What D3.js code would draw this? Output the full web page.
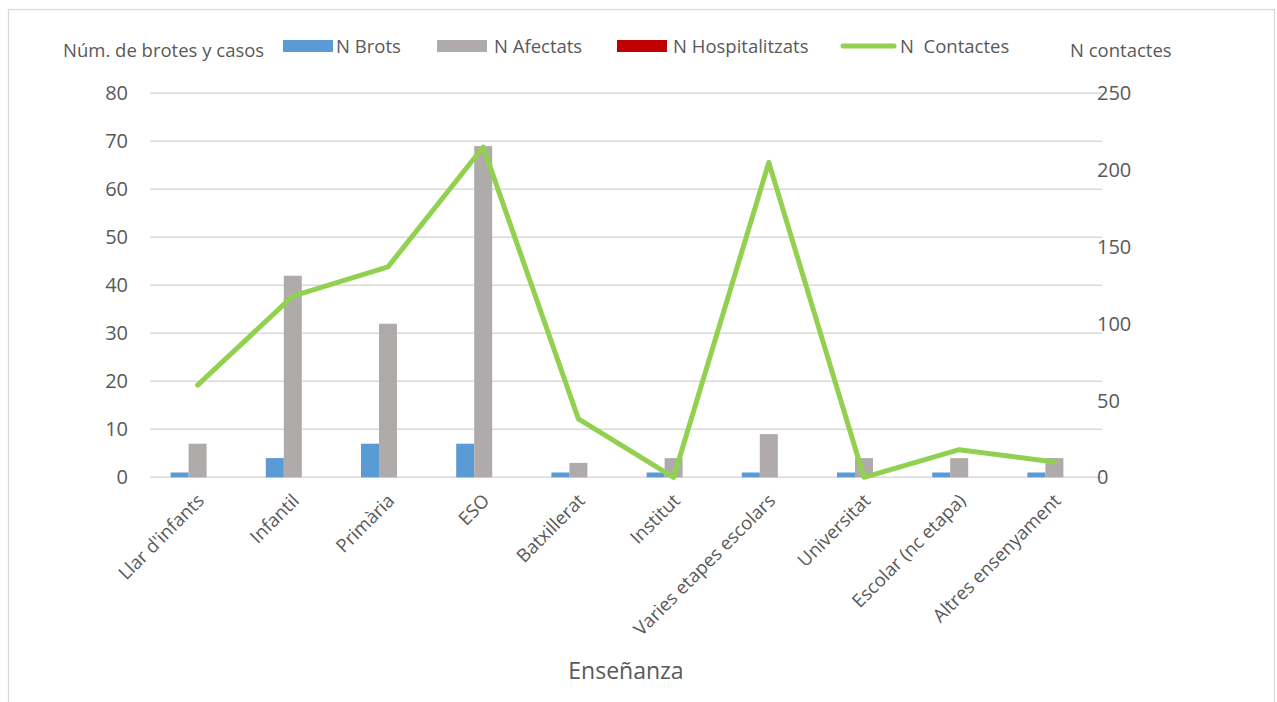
<!DOCTYPE html>
<html>
<head>
<meta charset="utf-8">
<script src="https://cdn.jsdelivr.net/npm/d3@7"></script>
<style>
  body { margin: 0; background: #fff; }
  svg text { font-family: "Open Sans", sans-serif; fill: #595959; }
</style>
</head>
<body>
<svg id="chart" width="1277" height="702"></svg>
<script>
// data
const categories = ["Llar d'infants", "Infantil", "Primària", "ESO", "Batxillerat", "Institut",
  "Varies etapes escolars", "Universitat", "Escolar (nc etapa)", "Altres ensenyament"]
const nBrots = [1, 4, 7, 7, 1, 1, 1, 1, 1, 1]
const nAfectats = [7, 42, 32, 69, 3, 4, 9, 4, 4, 4]
const nHospitalitzats = [0, 0, 0, 0, 0, 0, 0, 0, 0, 0]
const nContactes = [60, 118, 137, 215, 38, 0, 205, 0, 18, 10]
const leftTicks = [0, 10, 20, 30, 40, 50, 60, 70, 80]
const rightTicks = [0, 50, 100, 150, 200, 250]

const barSeries = [
  {name: "N Brots", values: nBrots, color: "#5b9bd5"},
  {name: "N Afectats", values: nAfectats, color: "#afabab"},
  {name: "N Hospitalitzats", values: nHospitalitzats, color: "#c00000"}
]
const lineColor = "#92d050"

const svg = d3.select("#chart")

// outer frame
svg.append("rect")
  .attr("x", 8.5).attr("y", 9.5)
  .attr("width", 1266).attr("height", 720)
  .attr("fill", "none").attr("stroke", "#d9d9d9").attr("stroke-width", 1.2)

const plotLeft = 150, plotRight = 1102, plotTop = 93.3, plotBottom = 477.3

const x = d3.scaleBand().domain(categories).range([plotLeft, plotRight]).padding(0)
const groupW = 54
const xInner = d3.scaleBand().domain(barSeries.map(d => d.name)).range([0, groupW])
const yL = d3.scaleLinear().domain([0, 80]).range([plotBottom, plotTop])
const yR = d3.scaleLinear().domain([0, 250]).range([plotBottom, plotTop])

// gridlines
svg.append("g").selectAll("line")
  .data(leftTicks).enter().append("line")
  .attr("x1", plotLeft).attr("x2", plotRight)
  .attr("y1", d => yL(d)).attr("y2", d => yL(d))
  .attr("stroke", "#d9d9d9").attr("stroke-width", 1.5)

// left axis labels
svg.append("g").selectAll("text")
  .data(leftTicks).enter().append("text")
  .attr("x", 128).attr("y", d => yL(d))
  .attr("dy", "0.35em")
  .attr("text-anchor", "end")
  .style("font-size", "20px")
  .text(d => d)

// right axis labels
svg.append("g").selectAll("text")
  .data(rightTicks).enter().append("text")
  .attr("x", 1097).attr("y", d => yR(d))
  .attr("dy", "0.35em")
  .attr("text-anchor", "start")
  .style("font-size", "20px")
  .text(d => d)

// bars
barSeries.forEach(s => {
  svg.append("g").selectAll("rect")
    .data(categories).enter().append("rect")
    .attr("x", (c) => x(c) + (x.bandwidth() - groupW) / 2 + xInner(s.name))
    .attr("width", xInner.bandwidth())
    .attr("y", (c, i) => yL(s.values[i]))
    .attr("height", (c, i) => plotBottom - yL(s.values[i]))
    .attr("fill", s.color)
})

// contacts line
const line = d3.line()
  .x((d, i) => x(categories[i]) + x.bandwidth() / 2)
  .y(d => yR(d))
svg.append("path")
  .datum(nContactes)
  .attr("d", line)
  .attr("fill", "none")
  .attr("stroke", lineColor)
  .attr("stroke-width", 5)
  .attr("stroke-linejoin", "round")
  .attr("stroke-linecap", "round")

// category labels
svg.append("g").selectAll("text")
  .data(categories).enter().append("text")
  .attr("transform", c => `translate(${x(c) + x.bandwidth() / 2 + 3},${plotBottom + 20}) rotate(-45)`)
  .attr("text-anchor", "end")
  .attr("dy", "0.35em")
  .style("font-size", "18.5px")
  .text(c => c)

// axis titles
svg.append("text").attr("x", 626).attr("y", 679)
  .attr("text-anchor", "middle").style("font-size", "23px").text("Enseñanza")
svg.append("text").attr("x", 63).attr("y", 57)
  .style("font-size", "18.5px").text("Núm. de brotes y casos")
svg.append("text").attr("x", 1070).attr("y", 57)
  .style("font-size", "18.5px").text("N contactes")

// legend
const legend = [
  {label: "N Brots", color: barSeries[0].color, sx: 283, tx: 336, type: "bar"},
  {label: "N Afectats", color: barSeries[1].color, sx: 437, tx: 494, type: "bar"},
  {label: "N Hospitalitzats", color: barSeries[2].color, sx: 617, tx: 673, type: "bar"},
  {label: "N\u00a0 Contactes", color: lineColor, sx: 841, tx: 900, type: "line"}
]
const lg = svg.append("g")
legend.forEach(l => {
  if (l.type === "bar") {
    lg.append("rect").attr("x", l.sx).attr("y", 40).attr("width", 50).attr("height", 12).attr("fill", l.color)
  } else {
    lg.append("line").attr("x1", l.sx + 2).attr("x2", l.sx + 53).attr("y1", 46).attr("y2", 46)
      .attr("stroke", l.color).attr("stroke-width", 5).attr("stroke-linecap", "round")
  }
  lg.append("text").attr("x", l.tx).attr("y", 53).style("font-size", "18.5px").text(l.label)
})
</script>
</body>
</html>
